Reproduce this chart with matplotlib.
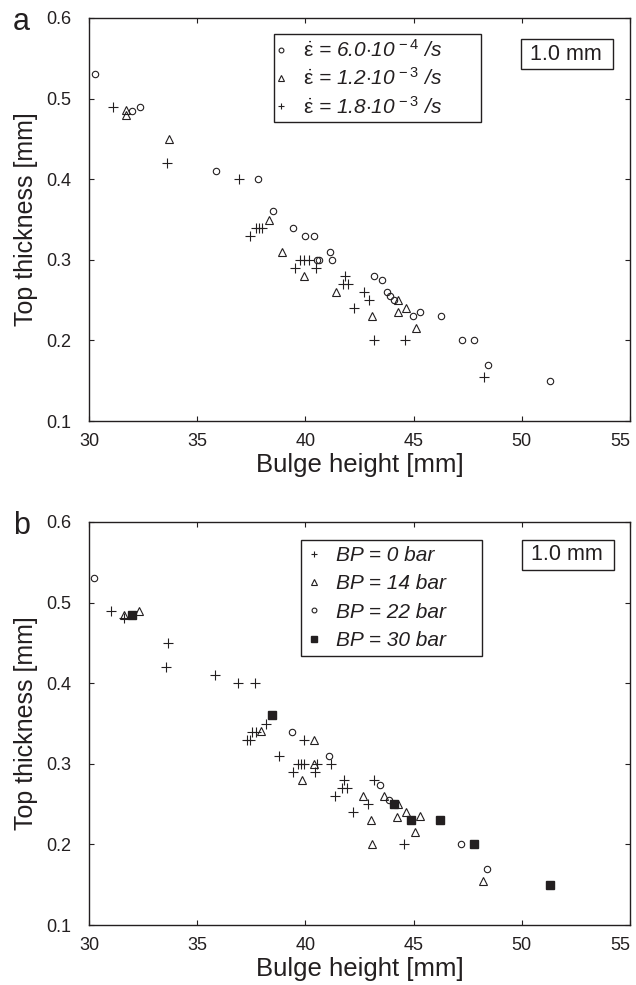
import matplotlib
matplotlib.use("Agg")
import matplotlib.pyplot as plt
from matplotlib.font_manager import FontProperties
from matplotlib.patches import Rectangle

plt.rcParams['font.family'] = ['Liberation Sans', 'DejaVu Sans']
plt.rcParams['mathtext.fontset'] = 'custom'
plt.rcParams['mathtext.rm'] = 'Liberation Sans'
plt.rcParams['mathtext.it'] = 'Liberation Sans:italic'

# panel a: strain rates
rate1_x = [30.3, 32.0, 32.35, 35.85, 37.8, 38.5, 39.45, 40.0, 40.4, 41.15, 41.25, 40.55, 40.65,
           43.15, 43.55, 43.75, 43.9, 44.1, 44.95, 45.3, 46.25, 47.25, 47.8, 48.45, 51.3]
rate1_y = [0.53, 0.484, 0.49, 0.41, 0.40, 0.36, 0.34, 0.33, 0.33, 0.31, 0.30, 0.30, 0.30,
           0.28, 0.275, 0.26, 0.255, 0.25, 0.23, 0.235, 0.23, 0.20, 0.20, 0.17, 0.15]
rate2_x = [31.7, 31.7, 33.7, 38.3, 38.9, 39.95, 41.4, 43.1, 44.3, 44.65, 44.3, 45.1]
rate2_y = [0.486, 0.48, 0.45, 0.35, 0.31, 0.28, 0.26, 0.23, 0.25, 0.24, 0.235, 0.215]
rate3_x = [31.1, 33.6, 36.95, 37.45, 37.7, 37.85, 38.0, 39.5, 39.75, 39.95, 40.15, 40.5,
           41.85, 41.75, 41.95, 42.7, 42.95, 42.25, 43.15, 44.6, 48.25]
rate3_y = [0.49, 0.42, 0.40, 0.33, 0.34, 0.34, 0.34, 0.29, 0.30, 0.30, 0.30, 0.29,
           0.28, 0.27, 0.27, 0.26, 0.25, 0.24, 0.20, 0.20, 0.155]
rate_labels = [r'$\dot{\mathrm{\varepsilon}}$ = 6.0$\cdot$10$^{\,-4}$ /s',
               r'$\dot{\mathrm{\varepsilon}}$ = 1.2$\cdot$10$^{\,-3}$ /s',
               r'$\dot{\mathrm{\varepsilon}}$ = 1.8$\cdot$10$^{\,-3}$ /s']

# panel b: back pressure
bp0_x = [31.0, 31.6, 33.65, 33.55, 35.8, 36.9, 37.65, 38.2, 37.55, 37.7, 37.3, 37.45, 39.95,
         38.8, 39.65, 39.8, 39.95, 40.55, 41.2, 39.45, 40.45, 41.8, 41.7, 41.9, 41.35, 42.9,
         42.2, 43.15, 44.55]
bp0_y = [0.49, 0.481, 0.45, 0.42, 0.41, 0.40, 0.40, 0.35, 0.34, 0.34, 0.33, 0.33, 0.33,
         0.31, 0.30, 0.30, 0.30, 0.30, 0.30, 0.29, 0.29, 0.28, 0.27, 0.27, 0.26, 0.25,
         0.24, 0.28, 0.20]
bp14_x = [31.6, 32.3, 37.95, 40.4, 40.4, 39.85, 42.65, 43.65, 44.3, 44.65, 44.25, 45.3,
          43.05, 45.05, 43.1, 48.2]
bp14_y = [0.485, 0.49, 0.341, 0.33, 0.30, 0.28, 0.26, 0.26, 0.25, 0.24, 0.234, 0.235,
          0.23, 0.215, 0.20, 0.155]
bp22_x = [30.25, 39.4, 41.1, 43.45, 43.85, 47.2, 48.4]
bp22_y = [0.53, 0.34, 0.31, 0.274, 0.255, 0.20, 0.17]
bp30_x = [32.0, 38.45, 44.1, 44.9, 46.2, 47.8, 51.3]
bp30_y = [0.485, 0.36, 0.25, 0.23, 0.23, 0.20, 0.15]
bp_labels = ['BP = 0 bar', 'BP = 14 bar', 'BP = 22 bar', 'BP = 30 bar']

x_ticks = [30, 35, 40, 45, 50, 55]
y_ticks = [0.1, 0.2, 0.3, 0.4, 0.5, 0.6]

W, H = 636, 985
INK = '#231f20'
fig = plt.figure(figsize=(W / 100, H / 100), dpi=100)
ax1 = fig.add_axes([89 / W, 1 - 421 / H, 541 / W, 403 / H])
ax2 = fig.add_axes([89 / W, 1 - 925 / H, 541 / W, 403 / H])

circ = dict(marker='o', ms=4.6, mfc='none', mec=INK, mew=0.8, ls='none')
tri = dict(marker='^', ms=5.2, mfc='none', mec=INK, mew=0.8, ls='none')
plus = dict(marker='+', ms=6.5, mec=INK, mew=0.8, ls='none')
sq = dict(marker='s', ms=6.2, mfc=INK, mec=INK, ls='none')

ax1.plot(rate1_x, rate1_y, label=rate_labels[0], **circ)
ax1.plot(rate2_x, rate2_y, label=rate_labels[1], **tri)
ax1.plot(rate3_x, rate3_y, label=rate_labels[2], **plus)

ax2.plot(bp0_x, bp0_y, label=bp_labels[0], **plus)
ax2.plot(bp14_x, bp14_y, label=bp_labels[1], **tri)
ax2.plot(bp22_x, bp22_y, label=bp_labels[2], **circ)
ax2.plot(bp30_x, bp30_y, label=bp_labels[3], **sq)

leg_font = FontProperties(family='Liberation Sans', style='italic', size=15)

# legend bbox (x0, top, width), handle settings, label spacing; "1.0 mm" box (x0, y0)
panels = [(ax1, (0.342, 0.960, 0.383), 0.15, 1.0, 0.30, 0.24, (0.7985, 0.8734)),
          (ax2, (0.391, 0.956, 0.335), 0.65, 0.75, 0.45, 0.30, (0.7998, 0.8819))]

for ax, lg, hl, htp, lsp, bpad, box in panels:
    ax.set_xlim(30, 55)
    ax.set_ylim(0.1, 0.6)
    ax.set_xticks(x_ticks)
    ax.set_yticks(y_ticks)
    ax.set_yticklabels(['%.1f' % v for v in y_ticks])
    ax.tick_params(direction='in', length=3.5, width=0.8, top=True, right=True,
                   labelsize=13, colors=INK, labelcolor=INK)
    ax.tick_params(axis='x', pad=9)
    ax.tick_params(axis='y', pad=12.5)
    ax.get_xticklabels()[-1].set_horizontalalignment('right')
    for s in ax.spines.values():
        s.set_linewidth(1.0)
        s.set_color(INK)
    ax.set_xlabel('Bulge height [mm]', fontsize=18.5, labelpad=2, color=INK)
    ax.set_ylabel('Top thickness [mm]', fontsize=18, labelpad=6, color=INK)
    leg = ax.legend(loc='upper left', bbox_to_anchor=(lg[0], lg[1] - 0.3, lg[2], 0.3),
                    mode='expand', borderaxespad=0, prop=leg_font, fancybox=False,
                    framealpha=1, edgecolor=INK, markerscale=0.75, handlelength=hl,
                    handletextpad=htp, labelspacing=lsp, borderpad=bpad)
    leg.get_frame().set_linewidth(1.0)
    for t in leg.get_texts():
        t.set_color(INK)
    ax.add_patch(Rectangle(box, 92 / 541, 30 / 403, transform=ax.transAxes, fc='white',
                           ec=INK, lw=1.0, zorder=5))
    ax.text(box[0] + 9 / 541, box[1] + 15 / 403, '1.0 mm', transform=ax.transAxes,
            fontsize=15.5, va='center', ha='left', color=INK, zorder=6)

pos1 = ax1.get_position()
pos2 = ax2.get_position()
fig.text(13 / W, pos1.y1 - 12 / H, 'a', fontsize=22, va='baseline', color=INK)
fig.text(13 / W, pos2.y1 - 12 / H, 'b', fontsize=22, va='baseline', color=INK)

fig.savefig('out.png', dpi=100)
